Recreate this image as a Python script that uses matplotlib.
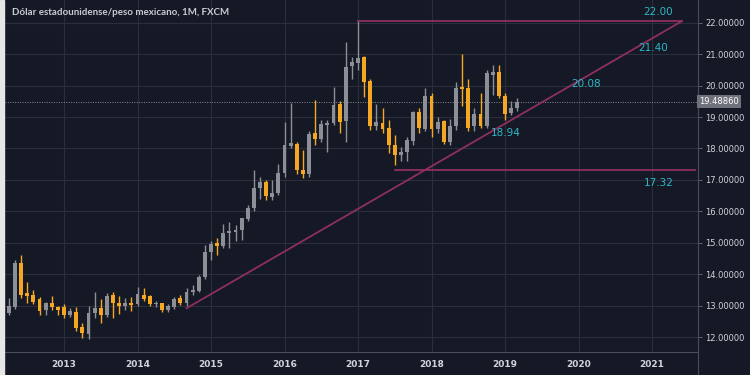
import matplotlib.pyplot as plt
import numpy as np
from matplotlib.patches import Rectangle
from matplotlib.lines import Line2D

# monthly candles, first one is April 2012 (month index relative to Jan 2013)
first_month = -9
opens = [12.78, 12.97, 14.37, 13.40, 13.33, 13.20, 12.85, 13.10, 12.95,
         12.97, 12.70, 12.80, 12.32, 12.10, 12.78, 12.94, 12.72, 13.34, 13.10, 12.98, 13.08,
         13.05, 13.34, 13.30, 13.05, 13.08, 12.85, 12.97, 13.24, 13.08, 13.43, 13.48, 13.90,
         14.72, 14.98, 14.90, 15.30, 15.33, 15.40, 15.75, 16.10, 16.75, 16.92, 16.47, 16.58,
         17.21, 18.08, 18.15, 17.30, 17.18, 18.50, 18.30, 18.75, 18.80, 19.42, 18.88, 20.62,
         20.73, 20.90, 20.15, 18.70, 18.82, 18.64, 18.10, 17.80, 17.90, 18.25, 19.16, 18.62,
         19.67, 18.62, 18.86, 18.20, 18.73, 19.95, 19.93, 18.70, 19.10, 18.72, 20.34, 20.42,
         19.68, 19.12, 19.30]
highs = [13.25, 14.45, 14.60, 13.75, 13.50, 13.27, 13.13, 13.30, 13.00,
         13.05, 12.93, 12.95, 12.45, 13.00, 13.45, 13.20, 13.40, 13.45, 13.30, 13.25, 13.28,
         13.60, 13.57, 13.35, 13.15, 13.10, 13.05, 13.27, 13.35, 13.58, 13.66, 13.98, 14.93,
         15.05, 15.15, 15.60, 15.67, 15.57, 15.80, 16.20, 17.30, 17.08, 17.00, 16.99, 17.50,
         18.85, 19.45, 18.20, 17.95, 18.55, 19.55, 18.90, 18.90, 19.95, 19.50, 21.40, 20.92,
         22.04, 20.95, 20.20, 19.40, 19.28, 18.90, 18.43, 18.06, 18.35, 19.20, 19.30, 19.92,
         19.75, 19.00, 18.92, 18.95, 20.10, 21.00, 20.21, 19.30, 19.75, 20.50, 20.65, 20.65,
         19.77, 19.50, 19.60]
lows = [12.70, 12.90, 13.25, 13.10, 13.05, 12.70, 12.70, 12.87, 12.72,
        12.60, 12.63, 12.20, 11.98, 11.95, 12.60, 12.45, 12.65, 12.60, 12.75, 12.85, 12.82,
        13.00, 13.15, 12.98, 12.97, 12.80, 12.80, 12.90, 13.02, 13.00, 13.34, 13.43, 13.85,
        14.45, 14.62, 14.85, 14.85, 15.05, 15.10, 15.70, 16.00, 16.40, 16.35, 16.36, 16.52,
        17.10, 18.00, 17.20, 17.05, 17.10, 18.10, 18.20, 17.90, 18.75, 18.50, 18.20, 20.20,
        20.50, 19.65, 18.60, 18.60, 18.50, 17.85, 17.47, 17.60, 17.60, 18.10, 18.50, 18.55,
        18.35, 18.50, 18.15, 18.10, 18.60, 19.35, 18.54, 18.55, 18.64, 18.64, 19.70, 19.60,
        18.92, 19.05, 19.20]
closes = [13.00, 14.37, 13.34, 13.30, 13.13, 12.82, 13.08, 12.95, 12.88,
          12.70, 12.82, 12.30, 12.12, 12.78, 12.94, 12.72, 13.32, 13.08, 13.00, 13.08, 13.04,
          13.37, 13.20, 13.06, 13.08, 12.85, 12.99, 13.20, 13.08, 13.45, 13.50, 13.93, 14.72,
          14.95, 14.90, 15.30, 15.37, 15.40, 15.78, 16.10, 16.75, 16.92, 16.50, 16.60, 17.23,
          18.10, 18.16, 17.30, 17.20, 18.45, 18.30, 18.77, 18.82, 19.38, 18.85, 20.60, 20.75,
          20.87, 20.12, 18.70, 18.85, 18.62, 18.12, 17.80, 17.90, 18.28, 19.16, 18.64, 19.67,
          18.62, 18.85, 18.20, 18.73, 19.93, 19.90, 18.66, 19.10, 18.72, 20.39, 20.42, 19.68,
          19.10, 19.30, 19.4886]

last_price = 19.4886
years = ['2013', '2014', '2015', '2016', '2017', '2018', '2019', '2020', '2021']
price_ticks = [12, 13, 14, 15, 16, 17, 18, 19, 20, 21, 22]

# drawn lines (month index, price)
trend_months = [20, 100.9]
trend_prices = [12.92, 22.05]
top_months = [48, 100.9]
top_prices = [22.05, 22.05]
support_months = [54, 103]
support_prices = [17.32, 17.32]

# level labels (month index, price, text)
level_months = [97, 96.2, 85.2, 72.2, 97.1]
level_prices = [22.34, 21.19, 20.04, 18.5, 16.9]
level_texts = ['22.00', '21.40', '20.08', '18.94', '17.32']

bg = '#151925'
grid_c = '#2b2f3b'
up_c = '#8c8f96'
down_c = '#f5a623'
line_c = '#8e2f60'
label_c = '#2bb7c9'
text_c = '#d1d4dc'

fig = plt.figure(figsize=(7.5, 3.75), dpi=100, facecolor=bg)
fig.patches.append(Rectangle((0, 0), 4 / 750, 1, transform=fig.transFigure,
                             color='#e6e6e6', zorder=0))
ax = fig.add_axes([5 / 750, 23 / 375, 693 / 750, 352 / 375])
ax.set_facecolor(bg)

o = np.array(opens)
h = np.array(highs)
l = np.array(lows)
c = np.array(closes)
x = first_month + np.arange(len(o))
colors = np.where(c >= o, up_c, down_c)

ax.vlines(x, l, h, colors=colors, lw=1.0, zorder=3)
body = np.maximum(np.abs(c - o), 0.05)
ax.bar(x, body, bottom=np.minimum(o, c), width=0.62, color=colors, zorder=4)

ax.plot(trend_months, trend_prices, color=line_c, lw=1.3, zorder=5)
ax.plot(top_months, top_prices, color=line_c, lw=1.3, zorder=5)
ax.plot(support_months, support_prices, color=line_c, lw=1.3, zorder=5)

for mx, py, t in zip(level_months, level_prices, level_texts):
    ax.text(mx, py, t, color=label_c, fontsize=7.5, ha='center', va='center',
            family='DejaVu Sans', zorder=6)

ax.axhline(last_price, color='#8a8d96', lw=0.7, ls=(0, (1, 1.5)), zorder=2)

ax.set_xlim((5 - 64) / 6.125, (698 - 64) / 6.125)
ax.set_ylim(11.53, 22.72)

ax.set_xticks(np.arange(len(years)) * 12)
ax.set_xticklabels(years)
ax.set_yticks(price_ticks)
ax.set_yticklabels(['%.5f' % v for v in price_ticks])
ax.yaxis.tick_right()
ax.grid(True, color=grid_c, lw=0.8, zorder=0)

ax.tick_params(axis='y', colors='#6a6d78', labelcolor=text_c, labelsize=6,
               length=3, width=0.6, pad=2)
ax.tick_params(axis='x', colors=bg, labelcolor=text_c, labelsize=6.5,
               length=0, pad=6)
for lab in ax.get_xticklabels():
    lab.set_fontweight('bold')
for side in ['top', 'left']:
    ax.spines[side].set_visible(False)
for side in ['right', 'bottom']:
    ax.spines[side].set_color('#4a4d58')
    ax.spines[side].set_linewidth(0.8)

# price scale border runs down through the time scale
fig.add_artist(Line2D([698 / 750, 698 / 750], [0, 23 / 375], transform=fig.transFigure,
                      color='#4a4d58', lw=0.8))

# current price tag on the price scale
ax.text(1.002, last_price, '%.5f' % last_price, transform=ax.get_yaxis_transform(),
        fontsize=6, color='white', ha='left', va='center', zorder=7,
        bbox=dict(boxstyle='square,pad=0.25', fc='#6f727b', ec='none'), clip_on=False)

ax.text(0.01, 0.965, 'Dólar estadounidense/peso mexicano, 1M, FXCM', transform=ax.transAxes,
        color='#c9ccd3', fontsize=7, fontweight='bold', family='Lato',
        ha='left', va='center')

fig.savefig('out.png', dpi=100, facecolor=fig.get_facecolor())
